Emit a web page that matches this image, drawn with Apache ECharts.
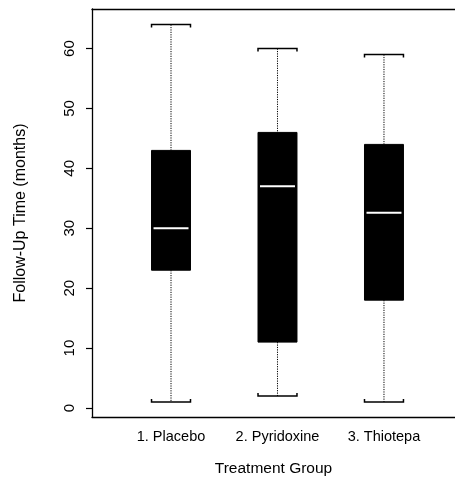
<!DOCTYPE html>
<html>
<head>
<meta charset="utf-8">
<script src="https://cdn.jsdelivr.net/npm/echarts@6/dist/echarts.min.js"></script>
<style>
  html, body { margin: 0; padding: 0; background: #fff; }
  #chart { width: 455px; height: 482px; }
</style>
</head>
<body>
<div id="chart"></div>
<script>
// Follow-up time by treatment group (box-and-whisker summary)
const categories = ['1. Placebo', '2. Pyridoxine', '3. Thiotepa'];
const whiskerLow = [1, 2, 1];
const lowerQuartile = [23, 11, 18];
const medians = [30, 37, 32.6];
const upperQuartile = [43, 46, 44];
const whiskerHigh = [64, 60, 59];
const yTicks = [0, 10, 20, 30, 40, 50, 60];

const FONT = '"Liberation Sans", Arial, Helvetica, sans-serif';
const BOX_WIDTH = 0.366;   // in x-axis units
const CAP_WIDTH = 0.366;
const X_MIN = 0.258, X_MAX = 3.667;

const rows = categories.map((c, i) => [i + 1, whiskerLow[i], lowerQuartile[i], medians[i], upperQuartile[i], whiskerHigh[i]]);

function renderBox(params, api) {
  const x = api.value(0);
  const pLow = api.coord([x, api.value(1)]);
  const pQ1 = api.coord([x, api.value(2)]);
  const pMed = api.coord([x, api.value(3)]);
  const pQ3 = api.coord([x, api.value(4)]);
  const pHigh = api.coord([x, api.value(5)]);
  const bw = api.size([BOX_WIDTH, 0])[0];
  const cw = api.size([CAP_WIDTH, 0])[0];
  const cx = pMed[0];
  const dotted = { stroke: '#000', lineWidth: 1, lineDash: [1.2, 1.2] };
  const cap = { stroke: '#000', lineWidth: 1.5, fill: null };
  return {
    type: 'group',
    children: [
      { type: 'line', shape: { x1: cx, y1: pHigh[1], x2: cx, y2: pQ3[1] }, style: dotted },
      { type: 'line', shape: { x1: cx, y1: pQ1[1], x2: cx, y2: pLow[1] }, style: dotted },
      { type: 'polyline', shape: { points: [[cx - cw / 2, pHigh[1] + 3], [cx - cw / 2, pHigh[1]], [cx + cw / 2, pHigh[1]], [cx + cw / 2, pHigh[1] + 3]] }, style: cap },
      { type: 'polyline', shape: { points: [[cx - cw / 2, pLow[1] - 3], [cx - cw / 2, pLow[1]], [cx + cw / 2, pLow[1]], [cx + cw / 2, pLow[1] - 3]] }, style: cap },
      { type: 'rect', shape: { x: cx - bw / 2, y: pQ3[1], width: bw, height: pQ1[1] - pQ3[1] }, style: { fill: '#000', stroke: '#000', lineWidth: 1 } },
      { type: 'line', shape: { x1: cx - bw / 2 + 2, y1: pMed[1], x2: cx + bw / 2 - 2, y2: pMed[1] }, style: { stroke: '#fff', lineWidth: 2 } }
    ]
  };
}

const frameLine = { show: true, lineStyle: { color: '#000', width: 1.3 } };

const chart = echarts.init(document.getElementById('chart'), null, { renderer: 'canvas' });
chart.setOption({
  animation: false,
  backgroundColor: '#fff',
  grid: { left: 92, top: 9, bottom: 60, right: 0, show: false, containLabel: false },
  xAxis: [{
    type: 'value', min: X_MIN, max: X_MAX, position: 'bottom',
    name: 'Treatment Group', nameLocation: 'middle', nameGap: 44,
    nameTextStyle: { fontFamily: FONT, fontSize: 15.5, color: '#000' },
    axisLine: Object.assign({ onZero: false }, frameLine),
    axisTick: { show: false },
    splitLine: { show: false },
    axisLabel: {
      customValues: [1, 2, 3],
      formatter: v => categories[Math.round(v) - 1],
      fontFamily: FONT, fontSize: 14.5, color: '#000', margin: 12
    }
  }, {
    // top edge of the frame
    type: 'value', min: X_MIN, max: X_MAX, position: 'top',
    axisLine: Object.assign({ onZero: false }, frameLine),
    axisTick: { show: false }, axisLabel: { show: false }, splitLine: { show: false }
  }],
  yAxis: {
    type: 'value', min: -1.5, max: 66.6,
    name: 'Follow-Up Time (months)', nameLocation: 'middle', nameGap: 63,
    nameTextStyle: { fontFamily: FONT, fontSize: 16, color: '#000' },
    axisLine: Object.assign({ onZero: false }, frameLine),
    splitLine: { show: false },
    axisTick: { show: true, customValues: yTicks, length: 6, lineStyle: { color: '#000', width: 1.2 } },
    axisLabel: {
      customValues: yTicks, rotate: 90, margin: 15,
      fontFamily: FONT, fontSize: 15, color: '#000'
    }
  },
  series: [{
    type: 'custom',
    renderItem: renderBox,
    xAxisIndex: 0,
    encode: { x: 0, y: [1, 2, 3, 4, 5] },
    data: rows
  }]
});
</script>
</body>
</html>
